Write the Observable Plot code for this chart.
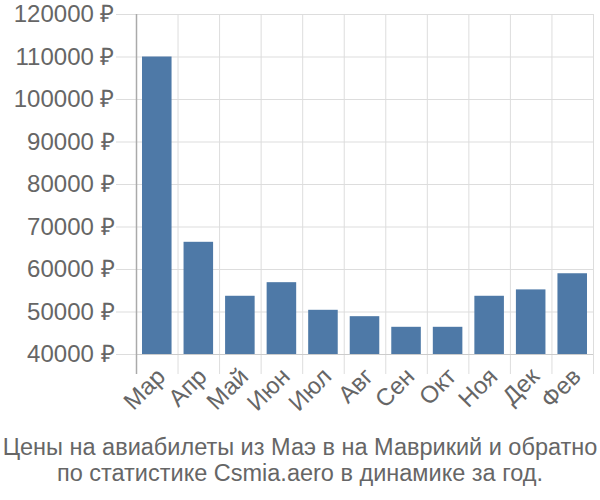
<!DOCTYPE html>
<html><head><meta charset="utf-8">
<script src="https://cdn.jsdelivr.net/npm/d3@7"></script>
<script src="https://cdn.jsdelivr.net/npm/@observablehq/plot@0.6"></script>
<style>
body{margin:0;background:#fff;font-family:"Liberation Sans",Arial,sans-serif;}
#caption{width:600px;text-align:center;color:#666;font-size:23.5px;line-height:26px;margin-top:4px;white-space:nowrap;}
</style></head><body>
<div id="chart"></div>
<div id="caption">Цены на авиабилеты из Маэ в на Маврикий и обратно<br>по статистике Csmia.aero в динамике за год.</div>
<script>
const months = ["Мар","Апр","Май","Июн","Июл","Авг","Сен","Окт","Ноя","Дек","Фев"];
const prices = [110000,66400,53700,56900,50400,48900,46400,46400,53700,55200,59000];
const yTicks = [40000,50000,60000,70000,80000,90000,100000,110000,120000];

const data = months.map((m,i)=>({i, m, v: prices[i]}));
const bounds = d3.range(months.length+1);
const centers = months.map((m,i)=>i+0.5);
const yMin = yTicks[0];

const plot = Plot.plot({
  width: 600, height: 430,
  marginTop: 14, marginBottom: 76, marginLeft: 136, marginRight: 7,
  style: {fontFamily: '"Liberation Sans", Arial, sans-serif', fontSize: "24px", color: "#666", background: "#fff"},
  x: {type: "linear", domain: [0, months.length]},
  y: {domain: [yTicks[0], yTicks[yTicks.length-1]]},
  marks: [
    Plot.gridY(yTicks, {stroke: "#ddd", strokeOpacity: 1}),
    Plot.gridX(bounds, {stroke: "#ddd", strokeOpacity: 1, insetBottom: -20}),
    Plot.axisY(yTicks, {tickSize: 20, stroke: "#ddd", fill: "#666", tickPadding: 2, tickFormat: d => d + " ₽", label: null, fontSize: 24}),
    Plot.rectY(data, {x1: "i", x2: d => d.i + 1, y1: yMin, y2: "v", fill: "#4e79a7", insetLeft: 6, insetRight: 6}),
    Plot.ruleY([yMin], {stroke: "#ccc"}),
    Plot.ruleX([0], {stroke: "#aaa", strokeWidth: 1.5, insetBottom: -20}),
    Plot.axisX(centers, {tickSize: 0, tickRotate: -45, tickPadding: 16, dx: 4, dy: 2, tickFormat: d => months[Math.floor(d)], fill: "#666", label: null, fontSize: 24})
  ]
});
document.getElementById("chart").appendChild(plot);
</script>
</body></html>
